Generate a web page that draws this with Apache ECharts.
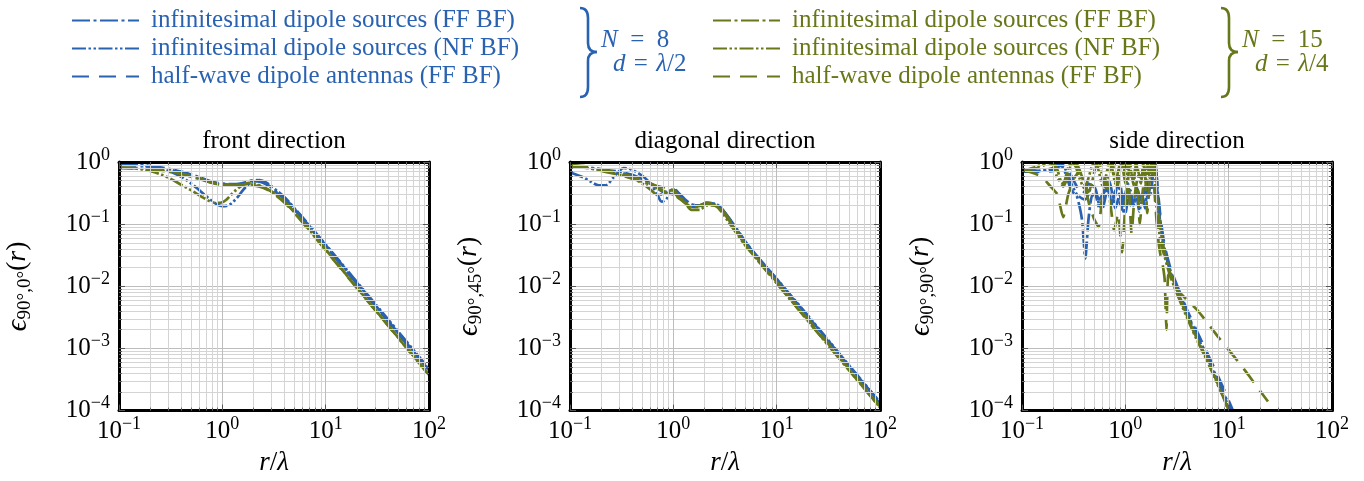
<!DOCTYPE html>
<html><head><meta charset="utf-8">
<script src="https://cdn.jsdelivr.net/npm/echarts@6/dist/echarts.min.js"></script>
<style>html,body{margin:0;padding:0;background:#fff}#c{width:1364px;height:481px}</style>
</head><body><div id="c"></div>
<script>
// ---------- data ----------
const PANEL_TITLES = ['front direction', 'diagonal direction', 'side direction'];
const Y_SUBS = ['90°,0°', '90°,45°', '90°,90°'];
const LABELS = {
  bFF: 'infinitesimal dipole sources (FF BF)', bNF: 'infinitesimal dipole sources (NF BF)', bHW: 'half-wave dipole antennas (FF BF)',
  gFF: 'infinitesimal dipole sources (FF BF)', gNF: 'infinitesimal dipole sources (NF BF)', gHW: 'half-wave dipole antennas (FF BF)'
};
// front direction
const F_X = [0.1,0.15,0.2,0.3,0.4,0.5,0.6,0.7,0.8,0.9,1.0,1.2,1.5,1.8,2.0,2.3,2.7,3.2,4,5,7,10,20,50,100];
const F_bFF = [0.92,0.9,0.86,0.78,0.7,0.63,0.57,0.52,0.48,0.46,0.45,0.44,0.45,0.49,0.51,0.5,0.44,0.35,0.26,0.175,0.092,0.046,0.0115,0.0018,4.5e-4];
const F_bHW = [0.9,0.88,0.84,0.76,0.68,0.61,0.55,0.5,0.47,0.45,0.44,0.43,0.44,0.47,0.49,0.48,0.43,0.34,0.25,0.17,0.088,0.044,0.011,0.00175,4.4e-4];
const F_gFF = [0.8,0.79,0.76,0.7,0.64,0.58,0.53,0.49,0.46,0.44,0.43,0.42,0.43,0.44,0.43,0.41,0.37,0.31,0.23,0.155,0.08,0.039,0.0096,0.00152,3.8e-4];
const F_gHW = [0.82,0.8,0.77,0.71,0.65,0.59,0.54,0.5,0.47,0.45,0.44,0.43,0.43,0.43,0.42,0.4,0.36,0.3,0.22,0.15,0.078,0.038,0.0094,0.0015,3.7e-4];
const F_X2 = [0.1,0.15,0.2,0.3,0.4,0.5,0.6,0.7,0.8,0.9,1.0,1.1,1.2,1.4,1.6,1.8,2.0,2.3,2.7,3.2,4,5,7,10,20,50,100];
const F_bNF = [0.93,0.9,0.84,0.72,0.58,0.45,0.35,0.28,0.235,0.205,0.195,0.197,0.21,0.27,0.36,0.44,0.5,0.51,0.46,0.37,0.27,0.18,0.095,0.047,0.0118,0.0019,4.7e-4];
const F_gNF = [0.8,0.78,0.72,0.56,0.43,0.35,0.29,0.25,0.225,0.22,0.225,0.25,0.29,0.37,0.43,0.46,0.45,0.42,0.37,0.31,0.23,0.155,0.08,0.039,0.0096,0.00152,3.8e-4];
// diagonal direction
const D_X = [0.1,0.15,0.2,0.3,0.4,0.5,0.6,0.7,0.8,0.9,1.0,1.1,1.3,1.5,1.8,2.1,2.5,2.9,3.4,4,5,7,10,20,50,100];
const D_bFF = [0.88,0.82,0.76,0.7,0.62,0.53,0.45,0.38,0.33,0.33,0.37,0.33,0.25,0.21,0.2,0.22,0.21,0.18,0.13,0.09,0.052,0.026,0.013,0.0033,5.3e-4,1.33e-4];
const D_bHW = [0.86,0.8,0.74,0.68,0.6,0.52,0.45,0.39,0.35,0.35,0.36,0.31,0.24,0.2,0.2,0.22,0.21,0.18,0.13,0.088,0.051,0.026,0.0129,0.0032,5.2e-4,1.3e-4];
const D_gFF = [0.88,0.8,0.72,0.62,0.54,0.48,0.43,0.38,0.34,0.31,0.3,0.27,0.22,0.19,0.19,0.21,0.2,0.17,0.12,0.08,0.046,0.023,0.0113,0.0028,4.5e-4,1.13e-4];
const D_gNF = [0.85,0.8,0.74,0.64,0.55,0.45,0.36,0.3,0.3,0.34,0.36,0.3,0.22,0.17,0.17,0.2,0.2,0.16,0.11,0.075,0.045,0.023,0.0112,0.0028,4.5e-4,1.12e-4];
const D_gHW = [0.9,0.84,0.76,0.66,0.58,0.5,0.45,0.41,0.39,0.36,0.33,0.28,0.22,0.19,0.2,0.22,0.21,0.18,0.125,0.082,0.047,0.024,0.0118,0.003,4.7e-4,1.18e-4];
const D_X2 = [0.1,0.13,0.16,0.19,0.22,0.26,0.3,0.33,0.37,0.42,0.5,0.6,0.7,0.77,0.85,0.95,1.05,1.2,1.4,1.6,1.9,2.2,2.6,3.0,3.5,4.2,5,7,10,20,50,100];
const D_bNF = [0.68,0.58,0.48,0.42,0.42,0.55,0.72,0.8,0.78,0.72,0.6,0.45,0.3,0.23,0.25,0.33,0.35,0.26,0.2,0.19,0.2,0.215,0.21,0.17,0.11,0.072,0.05,0.026,0.0132,0.0034,5.4e-4,1.36e-4];
// side direction
const S_X1 = [0.1,0.15,0.2,0.23,0.26,0.3,0.34,0.38,0.41,0.44,0.48,0.52,0.56,0.6,0.65,0.7,0.75,0.8,0.85,0.9,0.95,1.0,1.06,1.12,1.2,1.28,1.36,1.45,1.55,1.65,1.75,1.85,1.95,2.05,2.2,2.4,2.7,3,3.5,4,5,6,7,8,9,10,11];
const S_bFF = [0.74,0.72,0.76,0.95,0.7,0.35,0.28,0.12,0.028,0.12,0.3,0.28,0.18,0.25,0.45,0.3,0.2,0.3,0.5,0.25,0.15,0.3,0.45,0.22,0.2,0.35,0.22,0.3,0.18,0.45,0.3,0.6,0.98,0.35,0.1,0.04,0.019,0.012,0.0062,0.0036,0.0016,8.5e-4,4.8e-4,2.9e-4,1.9e-4,1.25e-4,8.5e-5];
const S_bNF = [0.7,0.72,0.8,0.98,0.8,0.45,0.3,0.26,0.25,0.3,0.45,0.35,0.2,0.18,0.3,0.5,0.3,0.18,0.25,0.4,0.2,0.15,0.25,0.35,0.2,0.3,0.16,0.25,0.4,0.25,0.5,0.8,0.97,0.3,0.09,0.038,0.018,0.011,0.0058,0.0034,0.0015,8e-4,4.5e-4,2.7e-4,1.75e-4,1.15e-4,8e-5];
const S_bHW = [0.7,0.7,0.72,0.85,0.9,0.6,0.4,0.3,0.35,0.45,0.4,0.3,0.25,0.3,0.35,0.25,0.22,0.35,0.3,0.2,0.25,0.35,0.3,0.2,0.28,0.4,0.3,0.22,0.35,0.5,0.4,0.7,0.96,0.4,0.12,0.045,0.021,0.013,0.0068,0.004,0.0018,9.5e-4,5.5e-4,3.4e-4,2.2e-4,1.45e-4,1e-4];
const S_X2 = [0.1,0.14,0.18,0.2,0.22,0.25,0.28,0.3,0.33,0.36,0.4,0.44,0.48,0.52,0.56,0.6,0.65,0.7,0.75,0.8,0.85,0.9,0.95,1.0,1.05,1.1,1.15,1.2,1.27,1.35,1.42,1.5,1.57,1.65,1.72,1.8,1.87,1.93,2.0,2.1,2.2,2.4,2.7,3,3.5,4,4.5,5,6,7,8,9,10];
const S_gFF = [0.72,0.8,0.95,0.98,0.75,0.4,0.6,0.95,1.0,0.75,0.45,0.33,0.5,0.9,0.98,0.55,0.38,0.7,1.0,0.5,0.42,0.9,0.98,0.55,0.45,1.0,0.65,0.42,0.97,0.55,0.45,1.0,0.5,0.9,0.55,0.98,0.9,0.6,0.35,0.15,0.08,0.035,0.017,0.011,0.0055,0.0032,0.002,0.0014,7.5e-4,4.2e-4,2.5e-4,1.6e-4,1.0e-4];
const S_gNF = [0.7,0.85,0.97,0.9,0.55,0.45,0.8,1.0,0.85,0.55,0.38,0.55,0.9,0.98,0.65,0.42,0.6,1.0,0.75,0.45,0.7,0.98,0.75,0.45,0.9,1.0,0.55,0.5,0.98,0.65,0.55,0.95,0.55,1.0,0.65,0.9,0.97,0.5,0.2,0.09,0.05,0.03,0.015,0.0095,0.005,0.003,0.0019,0.0013,7e-4,4e-4,2.4e-4,1.55e-4,9.5e-5];
const S_X3 = [0.1,0.15,0.19,0.22,0.25,0.28,0.32,0.36,0.4,0.45,0.5,0.55,0.6,0.66,0.72,0.78,0.85,0.93,1.0,1.07,1.15,1.22,1.3,1.38,1.46,1.55,1.63,1.72,1.8,1.9,2.0,2.1,2.2,2.3,2.4,2.45,2.5,2.55,2.6,2.7,3.0,3.5,4,5,6,7,8,10,13,16,20,24];
const S_gHW = [0.75,0.6,0.4,0.3,0.13,0.3,0.55,0.7,0.45,0.2,0.12,0.09,0.3,0.5,0.2,0.08,0.15,0.035,0.2,0.45,0.07,0.25,0.5,0.1,0.3,0.6,0.15,0.5,0.9,0.4,0.12,0.05,0.03,0.022,0.013,0.005,0.002,0.008,0.015,0.016,0.0097,0.0074,0.0059,0.0041,0.0028,0.002,0.0015,9.5e-4,5.5e-4,3.5e-4,2.1e-4,1.4e-4];

// ---------- styles ----------
const BLUE = '#2a62b2', GREEN = '#67781a';
const FONT = 'Liberation Serif';
const DASH = { FF: [18, 3.5, 3, 3.5], NF: [14, 2.5, 2.5, 2.5, 2.5, 2.5], HW: [17, 10] };
const GRID_LEFT = [119, 570, 1022];
const GRID_W = 310, GRID_TOP = 162, GRID_H = 260;

const PANELS = [
  { bFF:[F_X,F_bFF], bNF:[F_X2,F_bNF], bHW:[F_X,F_bHW], gFF:[F_X,F_gFF], gNF:[F_X2,F_gNF], gHW:[F_X,F_gHW], smooth:0.35 },
  { bFF:[D_X,D_bFF], bNF:[D_X2,D_bNF], bHW:[D_X,D_bHW], gFF:[D_X,D_gFF], gNF:[D_X,D_gNF], gHW:[D_X,D_gHW], smooth:0.3 },
  { bFF:[S_X1,S_bFF], bNF:[S_X1,S_bNF], bHW:[S_X1,S_bHW], gFF:[S_X2,S_gFF], gNF:[S_X2,S_gNF], gHW:[S_X3,S_gHW], smooth:0.2 }
];

function expLabel(v) {
  const e = Math.round(Math.log10(v));
  return '{b|10}{s|' + (e < 0 ? '\u2212' + (-e) : '' + e) + '}';
}
const labelRich = {
  b: { fontFamily: FONT, fontSize: 25, color: '#000', lineHeight: 32 },
  s: { fontFamily: FONT, fontSize: 18, color: '#000', verticalAlign: 'top', lineHeight: 18 }
};

const grids = [], xAxes = [], yAxes = [], series = [];
GRID_LEFT.forEach((L, p) => {
  grids.push({ left: L, top: GRID_TOP, width: GRID_W, height: GRID_H, show: false });
  const common = (main) => ({
    type: 'log', logBase: 10, gridIndex: p,
    axisLine: { show: true, onZero: false, lineStyle: { color: '#000', width: 3 } },
    axisTick: { show: true, inside: true, length: 6, lineStyle: { color: '#555', width: 1 } },
    minorTick: { show: true, splitNumber: 9, length: 3, lineStyle: { color: '#666', width: 1 } },
    splitLine: { show: main, lineStyle: { color: '#bdbdbd', width: 1 } },
    minorSplitLine: { show: main, lineStyle: { color: '#d4d4d4', width: 1 } },
    axisLabel: { show: main, formatter: expLabel, rich: labelRich },
    z: main ? 3 : 4
  });
  xAxes.push(Object.assign(common(true), {
    position: 'bottom', min: 0.1, max: 100,
    name: '{i|r}{n|/}{i|\u03bb}', nameLocation: 'middle', nameGap: 29,
    nameTextStyle: { rich: { i: { fontFamily: FONT, fontSize: 27, fontStyle: 'italic', color: '#000' }, n: { fontFamily: FONT, fontSize: 27, color: '#000' } } },
    axisLabel: { show: true, formatter: expLabel, rich: labelRich, margin: 5 }
  }));
  xAxes.push(Object.assign(common(false), { position: 'top', min: 0.1, max: 100 }));
  yAxes.push(Object.assign(common(true), {
    position: 'left', min: 1e-4, max: 1,
    name: '{e|\u03f5}{s|' + Y_SUBS[p] + '}{p|(}{i|r}{p|)}', nameLocation: 'middle', nameGap: 84, nameRotate: 90,
    nameTextStyle: { rich: {
      e: { fontFamily: FONT, fontSize: 29, fontStyle: 'italic', color: '#000', lineHeight: 34 },
      s: { fontFamily: FONT, fontSize: 19, color: '#000', verticalAlign: 'bottom', lineHeight: 19 },
      p: { fontFamily: FONT, fontSize: 28, color: '#000', lineHeight: 34 },
      i: { fontFamily: FONT, fontSize: 28, fontStyle: 'italic', color: '#000', lineHeight: 34 }
    } },
    axisLabel: { show: true, formatter: expLabel, rich: labelRich, margin: 9 }
  }));
  yAxes.push(Object.assign(common(false), { position: 'right', min: 1e-4, max: 1 }));

  ['bFF', 'bNF', 'bHW', 'gFF', 'gNF', 'gHW'].forEach(k => {
    const [xs, ys] = PANELS[p][k];
    series.push({
      type: 'line', name: k, xAxisIndex: p * 2, yAxisIndex: p * 2,
      data: xs.map((x, i) => [x, ys[i]]),
      symbol: 'none', smooth: PANELS[p].smooth, clip: true,
      lineStyle: { color: k[0] === 'b' ? BLUE : GREEN, width: 2.7, type: DASH[k.slice(1)] },
      itemStyle: { color: k[0] === 'b' ? BLUE : GREEN },
      z: 2
    });
  });
});

function brace(xv, color) {
  const s = { stroke: color, lineWidth: 2.6, fill: null };
  return [
    { type: 'bezierCurve', shape: { x1: xv - 8, y1: 8, cpx1: xv, cpy1: 8, x2: xv, y2: 18 }, style: s },
    { type: 'line', shape: { x1: xv, y1: 18, x2: xv, y2: 43 }, style: s },
    { type: 'bezierCurve', shape: { x1: xv, y1: 43, cpx1: xv, cpy1: 52, x2: xv + 9, y2: 52 }, style: s },
    { type: 'bezierCurve', shape: { x1: xv + 9, y1: 52, cpx1: xv, cpy1: 52, x2: xv, y2: 61 }, style: s },
    { type: 'line', shape: { x1: xv, y1: 61, x2: xv, y2: 87 }, style: s },
    { type: 'bezierCurve', shape: { x1: xv, y1: 87, cpx1: xv, cpy1: 97, x2: xv - 8, y2: 97 }, style: s }
  ];
}
function mathText(x, y, text, color) {
  return { type: 'text', x: x, y: y, style: { text: text, fill: color, font: '25px "Liberation Serif"', verticalAlign: 'middle', align: 'left',
    rich: { i: { fontStyle: 'italic', fontFamily: FONT, fontSize: 25, fill: color } } } };
}
const graphics = [].concat(
  brace(588, BLUE), brace(1229, GREEN),
  [mathText(601, 40, '{i|N}\u2002=\u20028', BLUE), mathText(613, 64, '{i|d}\u2004=\u2004{i|\u03bb}/2', BLUE),
   mathText(1242, 40, '{i|N}\u2002=\u200215', GREEN), mathText(1255, 64, '{i|d}\u2004=\u2004{i|\u03bb}/4', GREEN)],
  PANEL_TITLES.map((t, p) => ({ type: 'text', x: GRID_LEFT[p] + GRID_W / 2, y: 141,
    style: { text: t, fill: '#000', font: '25px "Liberation Serif"', align: 'center', verticalAlign: 'middle' } }))
);

const legendBase = {
  orient: 'vertical', itemWidth: 67, itemHeight: 14, itemGap: 3, padding: 0, selectedMode: false,
  itemStyle: { opacity: 0 },
  formatter: n => LABELS[n]
};
const option = {
  animation: false,
  backgroundColor: '#fff',
  grid: grids, xAxis: xAxes, yAxis: yAxes, series: series,
  legend: [
    Object.assign({}, legendBase, { left: 71, top: 8, data: ['bFF', 'bNF', 'bHW'],
      textStyle: { fontFamily: FONT, fontSize: 25, color: BLUE, padding: [0, 0, 0, 7] } }),
    Object.assign({}, legendBase, { left: 712, top: 8, data: ['gFF', 'gNF', 'gHW'],
      textStyle: { fontFamily: FONT, fontSize: 25, color: GREEN, padding: [0, 0, 0, 7] } })
  ],
  graphic: graphics
};
const chart = echarts.init(document.getElementById('c'), null, { renderer: 'canvas' });
chart.setOption(option);
</script>
</body></html>
